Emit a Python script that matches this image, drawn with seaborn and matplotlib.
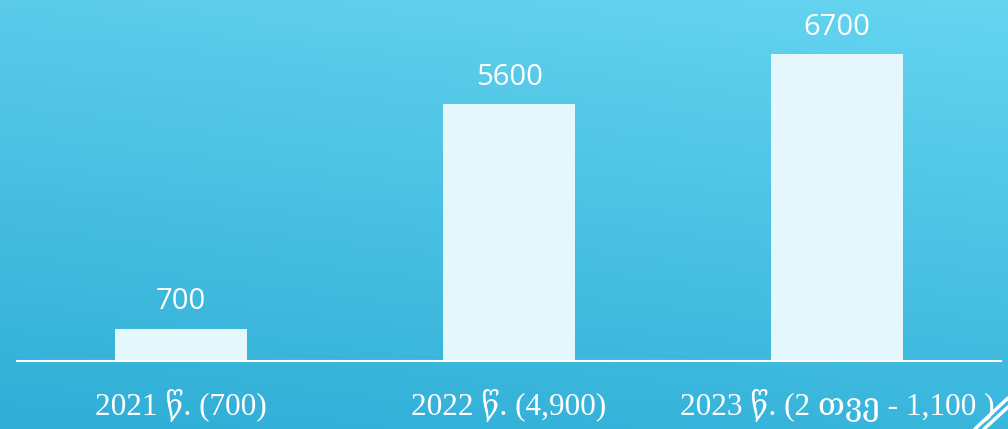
import matplotlib
matplotlib.use("Agg")
import matplotlib.pyplot as plt
import seaborn as sns
import pandas as pd
import numpy as np
from matplotlib.lines import Line2D

# data
categories = ["2021 წ. (700)", "2022 წ. (4,900)", "2023 წ. (2 თვე - 1,100 )"]
values = [700, 5600, 6700]

sns.set_style("white")
plt.rcParams['font.family'] = ['Open Sans', 'DejaVu Sans']

df = pd.DataFrame({"cat": categories, "val": values})

W, H = 1008, 429
fig = plt.figure(figsize=(W / 100, H / 100), dpi=100)

# gradient background
bg = fig.add_axes([0, 0, 1, 1])
yy, xx = np.mgrid[0:1:200j, 0:1:300j]
top_l = np.array([0x5B, 0xCB, 0xEA]) / 255
top_r = np.array([0x65, 0xD5, 0xF0]) / 255
bot_l = np.array([0x2F, 0xAE, 0xD6]) / 255
bot_r = np.array([0x3A, 0xB6, 0xDD]) / 255
top = top_l[None, None, :] * (1 - xx[..., None]) + top_r[None, None, :] * xx[..., None]
bot = bot_l[None, None, :] * (1 - xx[..., None]) + bot_r[None, None, :] * xx[..., None]
img = top * (1 - yy[..., None]) + bot * yy[..., None]
bg.imshow(img, aspect='auto', extent=[0, 1, 0, 1], origin='upper')
bg.set_axis_off()

# main axes: x from 17 to 1001 px, baseline at y=361 px
ax = fig.add_axes([17 / W, (H - 361) / H, 984 / W, 361 / H])
ax.patch.set_alpha(0)
sns.barplot(data=df, x="cat", y="val", ax=ax, color="#E3F7FC", width=0.4,
            saturation=1, linewidth=0)
ax.set_xlim(-0.5, 2.5)
ax.set_ylim(0, 7880)
for s in ["top", "right", "left"]:
    ax.spines[s].set_visible(False)
ax.spines["bottom"].set_color("white")
ax.spines["bottom"].set_linewidth(1.5)
ax.set_yticks([])
ax.set_xlabel("")
ax.set_ylabel("")
ax.tick_params(axis="x", length=0, pad=20.5, colors="white")
for lbl in ax.get_xticklabels():
    lbl.set_fontfamily(['Liberation Serif', 'DejaVu Serif', 'DejaVu Sans'])
    lbl.set_fontsize(22.5)
    lbl.set_color("white")

for i, v in enumerate(values):
    ax.annotate(str(v), (i, v), xytext=(0, 9), textcoords="offset points",
                ha="center", va="bottom", color="white", fontsize=21)

# corner stripes
for off in [0, 9]:
    fig.add_artist(Line2D([(975 + off) / W, 1.0], [0, (31 - off) / H],
                          color="white", lw=2.5, transform=fig.transFigure))

fig.savefig("out.png", dpi=100)
